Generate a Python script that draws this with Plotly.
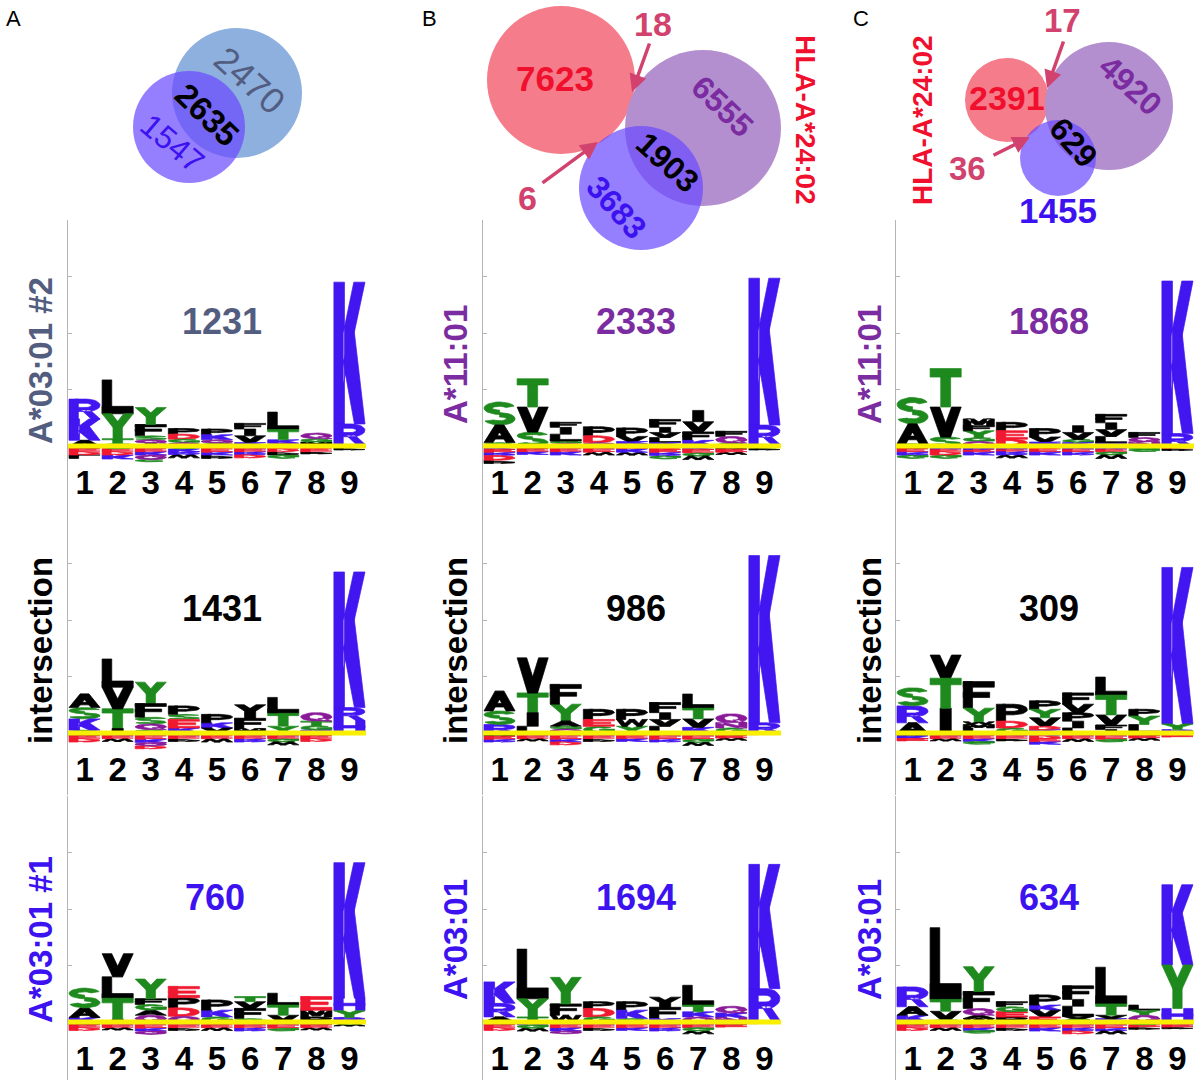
import numpy as np
import plotly.graph_objects as go

# ---------------- data ----------------
positions = [1, 2, 3, 4, 5, 6, 7, 8, 9]
position_labels = ["1", "2", "3", "4", "5", "6", "7", "8", "9"]

panel_titles = ["A*03:01 #2", "A*11:01", "A*11:01",
                "intersection", "intersection", "intersection",
                "A*03:01 #1", "A*03:01", "A*03:01"]
panel_counts = ["1231", "2333", "1868", "1431", "986", "309", "760", "1694", "634"]

# enriched residues per position, bottom -> top, "letter+bits"
pos_11 = ["A.10 K.38 R.35", "G.04 T.09 Y.44 L.60", "I.05 Q.06 S.07 F.20 Y.30",
          "Q.06 G.06 D.09 P.10", "G.05 Q.06 K.09 P.10", "K.06 V.12 I.12 F.10",
          "Q.05 K.06 T.18 L.31", "M.07 G.06 Q.10", "S.03 R.36 K2.51"]
pos_12 = ["G.06 A.31 S.41", "S.25 V.44 T.50", "Q.05 G.04 L.12 I.12 F.09",
          "Q.06 D.12 P.16", "G.04 K.04 V.09 P.15", "K.06 L.09 V.09 I.09 F.14",
          "K.10 F.15 V.18 I.20", "G.05 Q.12 F.09", "S.03 R.34 K2.60"]
pos_13 = ["G.04 A.35 S.47", "S.16 V.53 T.68", "Q.08 G.07 Y.12 F.09 M.12",
          "D.12 E.15 P.15", "G.04 K.03 V.09 P.15", "K.06 G.06 V.12 I.12",
          "K.05 L.12 V.12 I.12 F.15", "N.07 Q.08 F.09", "R.22 K2.70"]
pos_21 = ["G.05 K.20 S.20 A.24", "I.08 T.35 V.38 L.50", "G.06 Q.10 S.12 F.24 Y.38",
          "K.09 E.15 S.09 P.15", "V.09 K.09 P.15", "M.08 F.18 I.12 V.12",
          "Y.12 T.24 L.27", "K.05 G.08 T.08 Q.15", "H.22 R.23 K2.40"]
pos_22 = ["R.15 S.24 A.35", "L.12 I.24 T.35 V.62", "Q.07 G.05 A.09 Y.30 F.35",
          "G.12 E.12 P.18", "Y.12 W.12 P.18", "L.12 V.12 I.12 F.18",
          "K.10 V.15 T.20 L.24", "G.09 N.09 Q.16", "R.18 K2.96"]
pos_23 = ["A.18 R.30 S.32", "I.44 T.53 V.41", "L.09 M.06 W.05 Y.24 F.47",
          "G.09 D.12 P.30", "K.06 D.06 V.15 Y.15 P.15", "L.09 I.12 P.15 V.15 F.20",
          "I.06 F.08 V.18 T.35 L.32", "L.15 Y.15 P.12", "R.06 Y.10 K2.77"]
pos_31 = ["K.08 A.17 S.35", "I.05 T.37 L.38 V.41", "Q.12 A.09 G.10 F.10 Y.35",
          "Q.10 D.15 P.18 E.20", "G.09 K.12 P.18", "G.06 F.18 V.12 T.09",
          "V.12 T.18 L.21", "P.09 M.12 E.24", "R.08 Y.12 H.22 K2.40"]
pos_32 = ["A.09 R.24 K.38", "T.09 Y.32 L.88", "W.12 F.20 Y.47",
          "G.09 D.15 P.12", "G.06 K.15 P.15", "K.06 F.20 I.08 V.10",
          "Q.09 K.09 T.12 L.35", "N.08 K.08 Q.12", "G.03 R.56 K2.20"]
pos_33 = ["K.12 A.15 R.35", "G.04 V.15 T.21 L1.27", "W.06 A.06 Q.12 F.30 Y.44",
          "P.09 E.09 G.09 F.09", "E.09 V.12 K.09 P.18", "G.05 V.05 L.18 I.12 F.24",
          "K.06 V.06 T.20 L.65", "Q.12 Y.09 L.09", "H.24 Y.77 K1.42"]

# depleted residues per position, from the zero line downwards
neg_11 = ["P.05 E.05 D.06 L.06", "G.05 E.05 D.06 K.07", "R.05 E.05 K.06 Q.08 C.04",
          "G.05 K.05 R.05 W.06", "D.05 E.06 K.05 P.06", "K.05 E.05 R.06 D.05",
          "E.05 D.05 P.06 G.06", "D.05 E.05 P.04", "L.04 P.03"]
neg_12 = ["K.06 E.05 R.06 D.08 P.06", "P.05 E.05 K.05", "R.05 E.05 K.06",
          "K.05 E.06 W.05", "E.05 K.06 W.05", "D.06 E.05 R.06 G.06",
          "K.06 E.06 G.06 W.06", "P.06 E.05 W.04", "G.04 P.03"]
neg_13 = ["P.05 E.06 R.05 G.06", "K.05 E.05 D.06 G.06", "R.06 E.05 K.05",
          "K.05 E.05 R.06 W.05", "D.05 E.06 K.05", "K.05 E.06 R.05",
          "K.05 E.05 G.06 W.06", "Y.05 G.05", "E.04 P.04"]
neg_21 = ["P.05 E.05 D.06", "K.05 E.05 W.05", "R.05 E.06 K.06 Q.06 D.05",
          "K.05 E.05 P.05", "D.05 E.05 W.06", "K.05 E.05 R.06",
          "K.05 E.05 G.06 W.05", "P.05 E.05 D.05", "G.03"]
neg_22 = ["P.06 E.05 R.05", "K.05 E.05 W.04", "R.05 E.06 K.05 D.05",
          "K.05 E.05 P.05", "D.05 E.05 K.05", "K.05 E.06 R.05",
          "K.05 E.06 G.06 W.05", "P.05 E.04 W.04", "E.03"]
neg_23 = ["P.05 K.05 E.04", "K.05 E.05 W.04", "R.05 E.05 K.05 G.05",
          "K.05 E.05 P.04", "R.05 D.05 E.05 K.05", "K.05 E.05 W.05",
          "K.05 E.06 G.05", "P.05 E.04 W.04", "P.04 E.03"]
neg_31 = ["P.05 E.05 D.05", "K.05 E.05 W.04", "R.05 E.06 K.05 Q.06",
          "K.05 E.05 P.05", "G.05 E.05 W.05", "K.05 E.05 R.06",
          "K.05 E.06 G.05", "P.05 E.05 W.04", "G.04 W.03"]
neg_32 = ["P.05 E.05 D.05", "K.05 G.06 W.05", "R.05 E.05 K.06 Q.05",
          "K.05 E.05 P.05", "D.05 E.05 K.05", "K.05 E.05 R.06",
          "K.05 E.05 G.06 W.05", "P.05 E.04", "E.03"]
neg_33 = ["P.05 E.05 D.05", "K.05 E.05 W.05", "R.05 E.05 K.05 G.05",
          "K.05 E.05 P.05", "D.05 E.05 K.06", "K.05 E.05 R.06 D.05",
          "K.05 E.06 R.05 W.05", "G.05 E.04 P.04", "K.05 E.04 P.03"]

pos_stacks = [pos_11, pos_12, pos_13, pos_21, pos_22, pos_23, pos_31, pos_32, pos_33]
neg_stacks = [neg_11, neg_12, neg_13, neg_21, neg_22, neg_23, neg_31, neg_32, neg_33]

# Venn diagrams: set labels / counts
venn_texts = [
    # text, x, y, size, color key, angle, bold
    ("2470", 250, 80, 36, "slate", 42, False),
    ("2635", 207, 114, 33, "black", 44, True),
    ("1547", 172, 143, 32, "blue", 40, False),
    ("7623", 555, 78, 35, "red", 0, True),
    ("6555", 722, 106, 32, "purple", 44, True),
    ("1903", 667, 162, 32, "black", 42, True),
    ("3683", 616, 207, 32, "blue", 48, True),
    ("18", 653, 24, 34, "pink", 0, True),
    ("6", 527, 198, 34, "pink", 0, True),
    ("HLA-A*24:02", 806, 120, 28, "red", 90, True),
    ("2391", 1007, 98, 34, "red", 0, True),
    ("4920", 1130, 85, 32, "purple", 42, True),
    ("629", 1073, 142, 32, "black", 48, True),
    ("1455", 1058, 210, 35, "blue", 0, True),
    ("17", 1062, 20, 33, "pink", 0, True),
    ("36", 967, 168, 33, "pink", 0, True),
    ("HLA-A*24:02", 922, 120, 28, "red", -90, True),
]

# ---------------- styles ----------------
W, H = 1202, 1080
FONT = "Liberation Sans"
TXT = {"slate": "#535D80", "black": "#000000", "blue": "#3C12F0",
       "red": "#F0102E", "purple": "#7A2CA0", "pink": "#D2426E"}
title_colors = ["slate", "purple", "purple", "black", "black", "black", "blue", "blue", "blue"]

LOGO_BLUE, LOGO_GREEN, LOGO_RED = "#4216F0", "#1E8A1E", "#F01A30"
LOGO_PURPLE, LOGO_BLACK = "#8A1A9A", "#000000"
COLOR_OF = {}
for c in "KRH":
    COLOR_OF[c] = LOGO_BLUE
for c in "STYGC":
    COLOR_OF[c] = LOGO_GREEN
for c in "DE":
    COLOR_OF[c] = LOGO_RED
for c in "NQ":
    COLOR_OF[c] = LOGO_PURPLE
for c in "AVLIPFMW":
    COLOR_OF[c] = LOGO_BLACK


def rect(x0, y0, x1, y1):
    return [(x0, y0), (x1, y0), (x1, y1), (x0, y1)]


def ring(cx, cy, rxo, ryo, rxi, ryi, a0, a1, n=16):
    t = np.radians(np.linspace(a0, a1, n))
    outer = [(cx + rxo * np.cos(a), cy + ryo * np.sin(a)) for a in t]
    inner = [(cx + rxi * np.cos(a), cy + ryi * np.sin(a)) for a in t[::-1]]
    return outer + inner


P_BOWL = [rect(0, 0, 0.3, 1), rect(0.2, 0.79, 0.55, 1), rect(0.2, 0.37, 0.55, 0.58),
          ring(0.55, 0.685, 0.45, 0.315, 0.17, 0.105, -90, 90)]
GLYPHS = {
    "A": [[(0, 0), (0.29, 0), (0.645, 1), (0.355, 1)], [(0.71, 0), (1, 0), (0.645, 1), (0.355, 1)],
          rect(0.2, 0.2, 0.8, 0.39)],
    "C": [ring(0.5, 0.5, 0.5, 0.5, 0.23, 0.29, 40, 320)],
    "D": [rect(0, 0, 0.29, 1), rect(0.2, 0.79, 0.45, 1), rect(0.2, 0, 0.45, 0.21),
          ring(0.45, 0.5, 0.55, 0.5, 0.26, 0.29, -90, 90)],
    "E": [rect(0, 0, 0.3, 1), rect(0, 0.79, 1, 1), rect(0, 0.4, 0.88, 0.6), rect(0, 0, 1, 0.21)],
    "F": [rect(0, 0, 0.3, 1), rect(0, 0.79, 1, 1), rect(0, 0.4, 0.85, 0.6)],
    "G": [ring(0.5, 0.5, 0.5, 0.5, 0.23, 0.29, 40, 340), rect(0.52, 0.36, 1, 0.54),
          rect(0.75, 0.1, 1, 0.54)],
    "H": [rect(0, 0, 0.3, 1), rect(0.7, 0, 1, 1), rect(0, 0.4, 1, 0.6)],
    "I": [rect(0.32, 0, 0.68, 1)],
    "K": [rect(0, 0, 0.34, 1), [(0.3, 0.28), (0.3, 0.64), (0.64, 1), (1, 1)],
          [(0.3, 0.44), (0.64, 0.68), (1, 0), (0.66, 0)]],
    "L": [rect(0, 0, 0.31, 1), rect(0, 0, 1, 0.22)],
    "M": [rect(0, 0, 0.25, 1), rect(0.75, 0, 1, 1), [(0.1, 1), (0.35, 1), (0.63, 0.16), (0.37, 0.16)],
          [(0.65, 1), (0.9, 1), (0.63, 0.16), (0.37, 0.16)]],
    "N": [rect(0, 0, 0.26, 1), rect(0.74, 0, 1, 1), [(0, 1), (0.3, 1), (1, 0), (0.7, 0)]],
    "P": P_BOWL,
    "Q": [ring(0.5, 0.5, 0.5, 0.5, 0.23, 0.29, 0, 180), ring(0.5, 0.5, 0.5, 0.5, 0.23, 0.29, 180, 360),
          [(0.55, 0.32), (0.75, 0.32), (1, 0), (0.8, 0)]],
    "R": P_BOWL + [[(0.4, 0.45), (0.68, 0.45), (1, 0), (0.71, 0)]],
    "S": [ring(0.5, 0.73, 0.5, 0.27, 0.23, 0.08, 20, 270),
          ring(0.5, 0.27, 0.5, 0.27, 0.23, 0.08, 90, -160)],
    "T": [rect(0, 0.78, 1, 1), rect(0.34, 0, 0.66, 0.8)],
    "V": [[(0, 1), (0.31, 1), (0.66, 0), (0.34, 0)], [(0.69, 1), (1, 1), (0.66, 0), (0.34, 0)]],
    "W": [[(0, 1), (0.18, 1), (0.34, 0), (0.18, 0)], [(0.41, 1), (0.59, 1), (0.34, 0), (0.18, 0)],
          [(0.41, 1), (0.59, 1), (0.82, 0), (0.66, 0)], [(0.82, 1), (1, 1), (0.82, 0), (0.66, 0)]],
    "Y": [[(0, 1), (0.31, 1), (0.65, 0.45), (0.35, 0.45)], [(0.69, 1), (1, 1), (0.65, 0.45), (0.35, 0.45)],
          rect(0.35, 0, 0.65, 0.47)],
}


def parse(s):
    return [(tok[0], float(tok[1:])) for tok in s.split()]


# ---------------- geometry ----------------
col_px = [(68, 366), (483, 781), (896, 1194)]
row_y0 = [446, 733, 1022]
UNIT = 56.5
YTOP = 4.0
title_x_px = [40, 455, 869]
title_y_px = [[361, 365, 365], [651, 651, 651], [940, 940, 940]]
count_x = [5.15, 5.12, 5.12, 5.15, 5.12, 5.12, 4.93, 5.12, 5.12]
HALF = 0.47

fig = go.Figure()
layout = dict(width=W, height=H, margin=dict(l=0, r=0, t=0, b=0),
              paper_bgcolor="white", plot_bgcolor="rgba(0,0,0,0)", showlegend=False,
              font=dict(family=FONT))
shapes, annotations = [], []

for k in range(9):
    r, c = divmod(k, 3)
    ax = "" if k == 0 else str(k + 1)
    x0p, x1p = col_px[c]
    y0 = row_y0[r]
    ybot = -min(1.1, (H - y0) / UNIT)
    top_px = y0 - YTOP * UNIT
    bot_px = y0 - ybot * UNIT
    layout["xaxis" + ax] = dict(domain=[x0p / W, x1p / W], range=[0.5, 9.5], visible=False,
                                anchor="y" + ax, fixedrange=True)
    layout["yaxis" + ax] = dict(domain=[1 - bot_px / H, 1 - top_px / H], range=[ybot, YTOP],
                                anchor="x" + ax, showline=True, linecolor="#B4B4B4", linewidth=1.5,
                                ticks="inside", tickvals=[1, 2, 3, 4], ticklen=4, tickcolor="#B4B4B4",
                                showticklabels=False, showgrid=False, zeroline=False, fixedrange=True)

    polys = {}

    def add(letter, xa, xb, ya, yb):
        col = COLOR_OF[letter]
        xs, ys = polys.setdefault(col, ([], []))
        for poly in GLYPHS[letter]:
            pts = [(xa + u * (xb - xa), ya + v * (yb - ya)) for (u, v) in poly]
            pts.append(pts[0])
            xs.extend(pt[0] for pt in pts)
            ys.extend(pt[1] for pt in pts)
            xs.append(None)
            ys.append(None)

    for j, p in enumerate(positions):
        base = 0.0
        for letter, h in parse(pos_stacks[k][j]):
            add(letter, p - HALF, p + HALF, base, base + h)
            base += h
        base = 0.0
        for letter, h in parse(neg_stacks[k][j]):
            add(letter, p - HALF, p + HALF, -base, -base - h)
            base += h

    for col, (xs, ys) in polys.items():
        fig.add_trace(go.Scatter(x=xs, y=ys, mode="lines", fill="toself", fillcolor=col,
                                 line=dict(width=0.7, color=col), hoverinfo="skip",
                                 xaxis="x" + ax, yaxis="y" + ax))
    # position numbers
    fig.add_trace(go.Scatter(x=positions, y=[-0.71] * len(positions), mode="text",
                             text=position_labels, hoverinfo="skip",
                             textfont=dict(size=33, color="black", family=FONT, weight="bold"),
                             xaxis="x" + ax, yaxis="y" + ax))
    # zero line
    shapes.append(dict(type="line", xref="x" + ax + " domain", yref="y" + ax, x0=0, x1=1, y0=0, y1=0,
                       line=dict(color="#F8F000", width=5), layer="above"))
    # count
    annotations.append(dict(text="<b>%s</b>" % panel_counts[k], xref="x" + ax, yref="y" + ax,
                            x=count_x[k], y=2.21, showarrow=False,
                            font=dict(size=36, color=TXT[title_colors[k]], family=FONT)))
    # side title
    annotations.append(dict(text="<b>%s</b>" % panel_titles[k], xref="paper", yref="paper",
                            x=title_x_px[c] / W, y=1 - title_y_px[r][c] / H, textangle=-90,
                            showarrow=False, xanchor="center", yanchor="middle",
                            font=dict(size=33, color=TXT[title_colors[k]], family=FONT)))

# ---------------- Venn overlay (pixel-like axis) ----------------
layout["xaxis10"] = dict(domain=[0, 1], range=[0, W], visible=False, anchor="y10", fixedrange=True)
layout["yaxis10"] = dict(domain=[0, 1], range=[H, 0], visible=False, anchor="x10", fixedrange=True)
fig.add_trace(go.Scatter(x=[0], y=[0], mode="markers", marker=dict(opacity=0), hoverinfo="skip",
                         xaxis="x10", yaxis="y10"))

venn_circles = [
    # cx, cy, r, fill, opacity
    (237, 93, 65, "#8DB0DE", 1.0),
    (189, 127, 56, "#6A48FF", 0.7),
    (561, 80, 74, "#F57C8A", 1.0),
    (703, 128, 78, "#B48FD0", 1.0),
    (641, 188, 62, "#6A48FF", 0.7),
    (1007, 100, 42, "#F57C8A", 1.0),
    (1109, 106, 64, "#B48FD0", 1.0),
    (1058, 158, 38, "#6A48FF", 0.7),
]
for cx, cy, rr, fc, op in venn_circles:
    shapes.append(dict(type="circle", xref="x10", yref="y10", x0=cx - rr, x1=cx + rr,
                       y0=cy - rr, y1=cy + rr, fillcolor=fc, opacity=op, line=dict(width=0),
                       layer="below"))

for t, x, y, s, ck, ang, bold in venn_texts:
    annotations.append(dict(text=("<b>%s</b>" % t) if bold else t, xref="x10", yref="y10",
                            x=x, y=y, textangle=ang, showarrow=False,
                            font=dict(size=s, color=TXT[ck], family=FONT)))

venn_arrows = [(632, 92, 650, 42), (598, 142, 541, 184), (1047, 88, 1064, 40), (1030, 137, 992, 156)]
for hx, hy, tx, ty in venn_arrows:
    annotations.append(dict(text="", xref="x10", yref="y10", x=hx, y=hy, ax=tx, ay=ty,
                            axref="x10", ayref="y10", showarrow=True, arrowhead=2, arrowsize=1,
                            arrowwidth=3.5, arrowcolor=TXT["pink"], standoff=0))

for lab, x in [("A", 13), ("B", 429), ("C", 861)]:
    annotations.append(dict(text=lab, xref="x10", yref="y10", x=x, y=18, showarrow=False,
                            font=dict(size=22, color="black", family=FONT)))

layout["shapes"] = shapes
layout["annotations"] = annotations
fig.update_layout(**layout)
fig.write_html("out.html", config={"displayModeBar": False, "staticPlot": True},
               post_script="document.body.style.margin='0px';document.body.style.overflow='hidden';")
